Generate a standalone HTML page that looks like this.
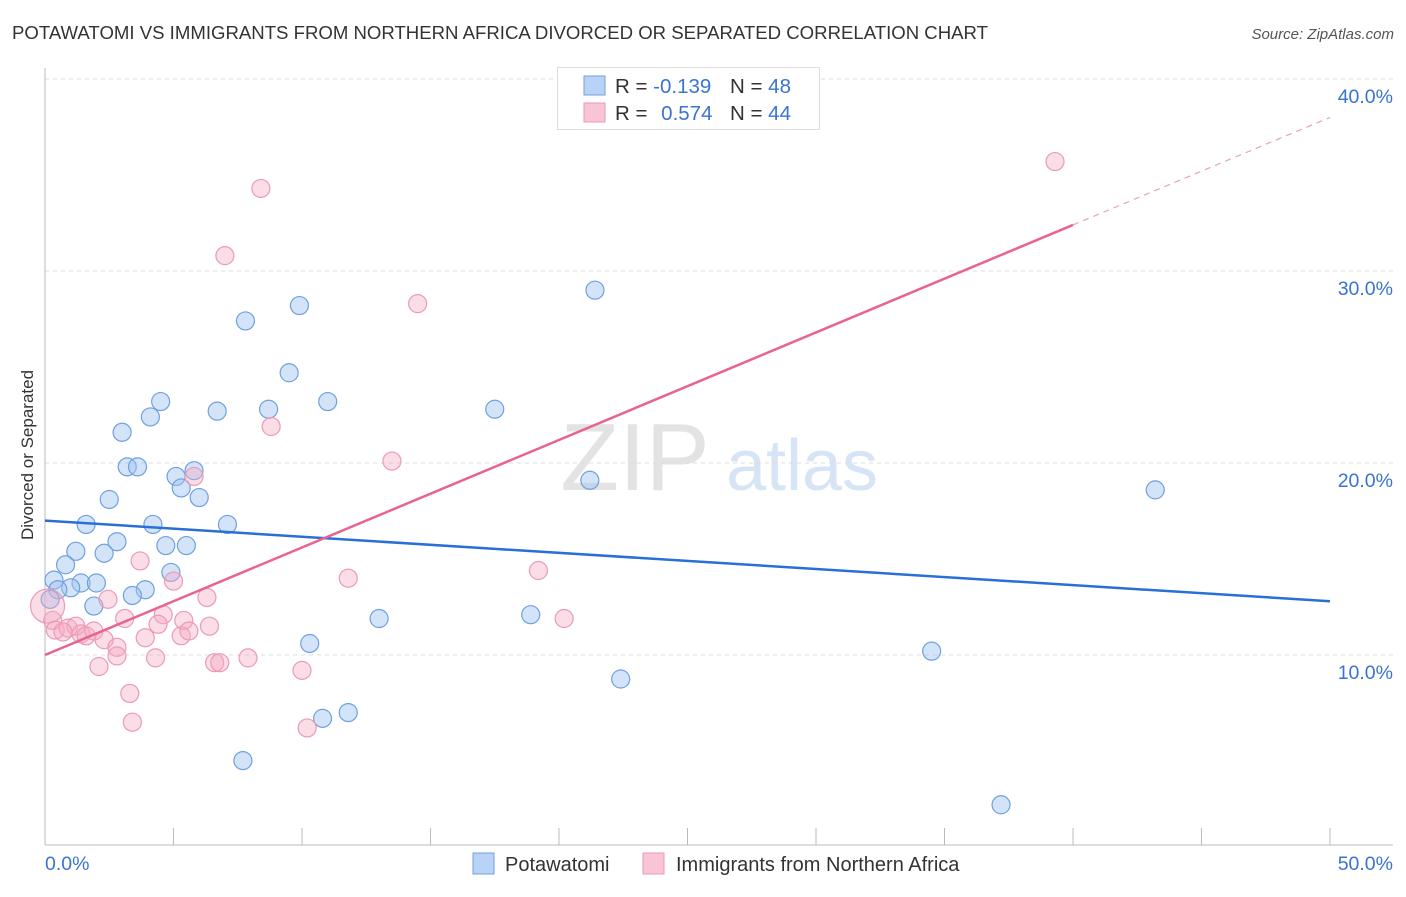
<!DOCTYPE html>
<html><head><meta charset="utf-8"><style>
body{margin:0;background:#fff;font-family:"Liberation Sans",sans-serif;}
svg text{font-family:"Liberation Sans",sans-serif;}
</style></head><body>
<svg id="c" width="1406" height="892" viewBox="0 0 1406 892" xmlns="http://www.w3.org/2000/svg">
<text x="12" y="39" font-size="18.6" fill="#333" textLength="976">POTAWATOMI VS IMMIGRANTS FROM NORTHERN AFRICA DIVORCED OR SEPARATED CORRELATION CHART</text>
<text x="1394" y="39" font-size="15" fill="#555" font-style="italic" text-anchor="end">Source: ZipAtlas.com</text>
<text x="33" y="455" font-size="17" fill="#333" text-anchor="middle" transform="rotate(-90 33 455)">Divorced or Separated</text>
<g><text x="635" y="490" font-size="96" fill="#e3e3e3" font-family="Liberation Serif,serif" text-anchor="middle">ZIP</text><text x="802" y="490" font-size="72" fill="#d6e4f5" text-anchor="middle">atlas</text></g>
<g id="grid"></g><g id="axes"></g><g id="pts"></g><g id="lines"></g>
<g>
<rect x="557.5" y="67.5" width="262" height="62" fill="#fff" stroke="#ddd"/>
<rect x="584" y="76" width="21" height="19" fill="#b8d3f5" stroke="#6fa0e0"/>
<rect x="584" y="103" width="21" height="19" fill="#f9c4d4" stroke="#eb9ab5"/>
<text x="615" y="93" font-size="20.5" fill="#333">R = <tspan fill="#3a74d0">-0.139</tspan></text>
<text x="730" y="93" font-size="20.5" fill="#333">N = <tspan fill="#3a74d0">48</tspan></text>
<text x="615" y="120" font-size="20.5" fill="#333">R = <tspan fill="#3a74d0" dx="8">0.574</tspan></text>
<text x="730" y="120" font-size="20.5" fill="#333">N = <tspan fill="#3a74d0">44</tspan></text>
</g>
<g>
<rect x="473" y="853" width="21" height="21" fill="#b8d3f5" stroke="#6fa0e0"/>
<text x="505" y="871" font-size="20" fill="#333">Potawatomi</text>
<rect x="643" y="853" width="21" height="21" fill="#f9c4d4" stroke="#eb9ab5"/>
<text x="676" y="871" font-size="20" fill="#333">Immigrants from Northern Africa</text>
</g>
</svg>
<script>
const blueX=[21.4,9.9,7.8,9.5,4.5,11.0,4.1,6.7,8.7,17.5,3.0,3.2,3.6,5.1,5.8,5.3,2.5,6.0,21.2,43.2,1.6,4.2,7.1,2.8,2.3,1.2,4.7,5.5,0.8,0.35,1.4,2.0,1.0,0.5,3.9,3.4,4.9,1.9,0.2,13.0,18.9,10.3,34.5,22.4,10.8,11.8,7.7,37.2];
const blueY=[29.0,28.2,27.4,24.7,23.2,23.2,22.4,22.7,22.8,22.8,21.6,19.8,19.8,19.3,19.6,18.7,18.1,18.2,19.1,18.6,16.8,16.8,16.8,15.9,15.3,15.4,15.7,15.7,14.7,13.9,13.75,13.75,13.5,13.4,13.4,13.1,14.3,12.55,12.9,11.9,12.1,10.6,10.2,8.75,6.7,7.0,4.5,2.2];
const pinkX=[39.3,8.4,7.0,14.5,8.8,13.5,5.8,3.7,11.8,19.2,5.0,2.45,6.3,20.2,4.6,3.1,5.4,4.4,6.4,0.3,0.4,0.9,1.2,1.4,1.6,1.9,0.7,2.3,3.9,5.3,5.6,2.8,2.8,4.3,6.6,6.8,7.9,2.1,10.0,3.3,3.4,10.2,0.1];
const pinkY=[35.7,34.3,30.8,28.3,21.9,20.1,19.3,14.9,14.0,14.4,13.85,12.9,13.0,11.9,12.1,11.9,11.8,11.6,11.5,11.8,11.3,11.4,11.5,11.1,11.0,11.25,11.2,10.8,10.9,11.0,11.25,10.4,9.95,9.85,9.6,9.6,9.85,9.4,9.2,8.0,6.5,6.2,12.55];
const blueLine=[17.0,12.8]; // y at x=0 and x=50
const pinkLine=[10.0,38.0];
const pinkSolidEnd=40;
const yTicks=[10,20,30,40];
const xTickLabels=["0.0%","50.0%"];
const NS="http://www.w3.org/2000/svg";
const X=v=>45+v*25.7, Y=v=>847-v*19.2;
function mk(t,a,p){const e=document.createElementNS(NS,t);for(const k in a)e.setAttribute(k,a[k]);p.appendChild(e);return e;}
const grid=document.getElementById('grid'),axes=document.getElementById('axes'),pts=document.getElementById('pts'),lines=document.getElementById('lines');
yTicks.forEach(t=>{
 const l=mk('line',{x1:45,x2:1393,y1:Y(t),y2:Y(t),stroke:'#ddd','stroke-dasharray':'4,4'},grid);
 
 
 const tx=mk('text',{x:1393,y:Y(t)+24,'font-size':19.5,fill:'#3a74d0','text-anchor':'end'},grid);
 tx.textContent=t.toFixed(1)+'%';
 
 
});
mk('line',{x1:45,x2:45,y1:68,y2:845,stroke:'#bbb'},axes);
mk('line',{x1:45,x2:1393,y1:845,y2:845,stroke:'#bbb'},axes);
for(let i=0;i<=10;i++){const t=mk('line',{x1:X(i*5),x2:X(i*5),y1:828,y2:845,stroke:'#bbb'},axes);}
const xl0=mk('text',{x:45,y:870,'font-size':19.5,fill:'#3a74d0'},axes);xl0.textContent=xTickLabels[0];


const xl1=mk('text',{x:1393,y:870,'font-size':19.5,fill:'#3a74d0','text-anchor':'end'},axes);xl1.textContent=xTickLabels[1];


blueX.forEach((x,i)=>{const c=mk('circle',{cx:X(x),cy:Y(blueY[i]),r:9,fill:'rgba(160,196,240,0.45)',stroke:'#6fa0e0','stroke-width':1.2},pts);
 
 });
pinkX.forEach((x,i)=>{const c=mk('circle',{cx:X(x),cy:Y(pinkY[i]),r:i==pinkX.length-1?17:9,fill:'rgba(245,170,195,0.4)',stroke:'#eb9ab5','stroke-width':1.2},pts);
 
 });
const bl=mk('line',{x1:X(0),y1:Y(blueLine[0]),x2:X(50),y2:Y(blueLine[1]),stroke:'#2a6fd6','stroke-width':2.5},lines);


const py=x=>pinkLine[0]+(pinkLine[1]-pinkLine[0])*x/50;
const pl=mk('line',{x1:X(0),y1:Y(py(0)),x2:X(pinkSolidEnd),y2:Y(py(pinkSolidEnd)),stroke:'#e8648f','stroke-width':2.5},lines);


const pd=mk('line',{x1:X(pinkSolidEnd),y1:Y(py(pinkSolidEnd)),x2:X(50),y2:Y(py(50)),stroke:'#eba0b8','stroke-width':1.2,'stroke-dasharray':'6,5'},lines);


</script>
</body></html>
